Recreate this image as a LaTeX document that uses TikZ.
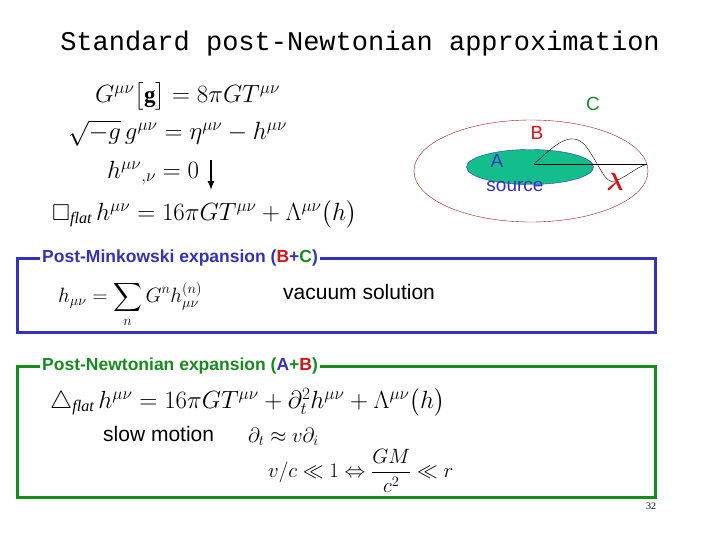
\documentclass[tikz,border=0pt]{standalone}
\usepackage{amsmath,amssymb}
\usepackage{fontspec}
\setmainfont{Liberation Serif}
\newfontfamily\monof{Liberation Mono}
\newfontfamily\sansf{Liberation Sans}
\usetikzlibrary{shapes.geometric}
\definecolor{bblue}{RGB}{50,50,190}
\definecolor{ggreen}{RGB}{20,140,30}
\definecolor{rred}{RGB}{215,20,20}
\definecolor{teal2}{RGB}{20,190,140}
\begin{document}
\begin{tikzpicture}[x=1pt,y=-1pt,
  eq/.style={anchor=west,inner sep=0pt,font=\fontsize{23}{26}\selectfont},
  lab/.style={inner sep=0pt,font=\sansf\fontsize{19}{22}\selectfont},
  biglab/.style={anchor=west,inner sep=0pt,font=\sansf\fontsize{21}{24}\selectfont},
  head/.style={anchor=west,inner xsep=2pt,inner ysep=0pt,fill=white,font=\sansf\bfseries\fontsize{17.5}{20}\selectfont},
  frame/.style={line width=3pt}]
\useasboundingbox (0,0) rectangle (720,540);
\node[inner sep=0pt,font=\monof\fontsize{27}{30}\selectfont] (title) at (360,44) {Standard post-Newtonian approximation};
% equations
\node[eq] (e1) at (95,96) {$G^{\mu\nu}\big[\mathbf{g}\big]=8\pi G T^{\mu\nu}$};
\node[eq] (e2) at (68,133) {$\sqrt{-g}\,g^{\mu\nu}=\eta^{\mu\nu}-h^{\mu\nu}$};
\node[eq] (e3) at (107,173) {$h^{\mu\nu}{}_{,\nu}=0$};
\node[eq] (e4) at (52,214) {$\square_{\mathit{flat}}\,h^{\mu\nu}=16\pi G T^{\mu\nu}+\Lambda^{\mu\nu}\big(h\big)$};
\coordinate (a1) at (211,160);
\coordinate (a2) at (211,190);
\draw[line width=2pt,-latex] (a1) -- (a2);
% ellipses
\node[draw=rred!80!black,ellipse,minimum width=234,minimum height=102,inner sep=0pt] (B) at (531,171) {};
\node[draw=bblue,fill=teal2,ellipse,minimum width=127,minimum height=35,inner sep=0pt] (A) at (530,167) {};
\coordinate (c0) at (534,164);
\coordinate (c1) at (647,164);
\draw (c0) -- (c1);
\draw (c0) .. controls (555,145) and (570,130) .. (585,145) .. controls (600,165) and (605,185) .. (615,181) .. controls (625,178) and (635,168) .. (c1);
\node[lab,text=ggreen] (C) at (593,104) {C};
\node[lab,text=rred] (Bl) at (537,133) {B};
\node[lab,text=bblue] (Al) at (497,161) {A};
\node[lab,text=bblue] (src) at (515,186) {source};
\node[text=rred,inner sep=0pt,font=\fontsize{32}{34}\selectfont] (lam) at (615,182) {$\boldsymbol{\lambda}$};
% boxes
\draw[frame,draw=bblue] (17,258) rectangle (655,332);
\node[head,text=bblue] (h1) at (40,258) {Post-Minkowski expansion (\textcolor{rred}{B}+\textcolor{ggreen}{C})\hspace{20pt}};
\node[eq,font=\fontsize{20}{24}\selectfont] (e5) at (58,304) {$h_{\mu\nu}=\displaystyle\sum_{n}G^{n}h^{(n)}_{\mu\nu}$};
\node[biglab] (vac) at (283,292) {vacuum solution};
\draw[frame,draw=ggreen] (17,366) rectangle (655,497);
\node[head,text=ggreen] (h2) at (40,366) {Post-Newtonian expansion (\textcolor{bblue}{A}+\textcolor{rred}{B})\hspace{20pt}};
\node[eq] (e6) at (50,402) {$\triangle_{\mathit{flat}}\,h^{\mu\nu}=16\pi G T^{\mu\nu}+\partial_t^2h^{\mu\nu}+\Lambda^{\mu\nu}\big(h\big)$};
\node[biglab] (slow) at (103,434) {slow motion};
\node[eq,font=\fontsize{20}{24}\selectfont] (e7) at (248,437) {$\partial_t\approx v\partial_i$};
\node[eq,font=\fontsize{20}{24}\selectfont] (e8) at (268,471) {$v/c\ll1\Leftrightarrow\dfrac{GM}{c^2}\ll r$};
\node[inner sep=0pt,font=\fontsize{10}{12}\selectfont] (pg) at (651,506) {32};
\end{tikzpicture}
\end{document}
